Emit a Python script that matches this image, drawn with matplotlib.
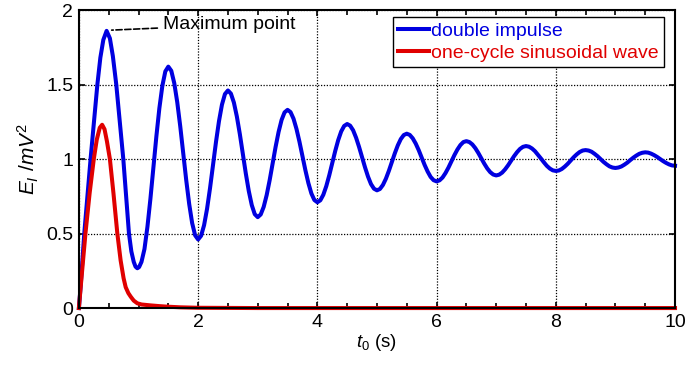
import numpy as np
import matplotlib
matplotlib.use("Agg")
import matplotlib.pyplot as plt
from matplotlib.ticker import MultipleLocator

plt.rcParams['font.family'] = ['Liberation Sans', 'DejaVu Sans']
plt.rcParams['mathtext.fontset'] = 'custom'
plt.rcParams['mathtext.rm'] = 'Liberation Sans'
plt.rcParams['mathtext.it'] = 'Liberation Sans:italic'

# ---- data ----
t_blue_first = [0, 0.03, 0.09, 0.14, 0.196, 0.25, 0.31, 0.36, 0.41, 0.465,
                0.52, 0.57, 0.627, 0.686, 0.745, 0.79, 0.84, 0.88, 0.92, 0.95, 0.98, 1.01]
e_blue_first = [0, 0.15, 0.5, 0.74, 1.0, 1.24, 1.5, 1.68, 1.80, 1.86,
                1.81, 1.69, 1.5, 1.25, 1.0, 0.76, 0.5, 0.38, 0.31, 0.278, 0.267, 0.275]
t_blue_rest = list(np.round(np.arange(1.05, 10.0001, 0.05), 2))
e_blue_rest = [
    0.31, 0.396, 0.546, 0.734, 0.944, 1.153, 1.341, 1.491, 1.588, 1.62,
    1.592, 1.509, 1.381, 1.22, 1.04, 0.86, 0.699, 0.57, 0.488, 0.46,
    0.485, 0.556, 0.666, 0.805, 0.96, 1.115, 1.254, 1.365, 1.436, 1.46,
    1.439, 1.379, 1.285, 1.167, 1.035, 0.903, 0.785, 0.691, 0.63, 0.61,
    0.628, 0.679, 0.758, 0.858, 0.97, 1.082, 1.182, 1.262, 1.313, 1.33,
    1.315, 1.271, 1.202, 1.116, 1.02, 0.924, 0.838, 0.769, 0.725, 0.71,
    0.723, 0.76, 0.818, 0.891, 0.973, 1.054, 1.127, 1.185, 1.222, 1.235,
    1.224, 1.193, 1.143, 1.081, 1.013, 0.944, 0.882, 0.832, 0.801, 0.79,
    0.799, 0.826, 0.868, 0.921, 0.98, 1.039, 1.092, 1.134, 1.161, 1.17,
    1.162, 1.139, 1.104, 1.06, 1.01, 0.96, 0.916, 0.88, 0.858, 0.85,
    0.857, 0.876, 0.906, 0.943, 0.985, 1.027, 1.064, 1.094, 1.114, 1.12,
    1.114, 1.098, 1.073, 1.041, 1.005, 0.969, 0.937, 0.912, 0.896, 0.89,
    0.895, 0.909, 0.931, 0.958, 0.989, 1.019, 1.046, 1.068, 1.082, 1.087,
    1.083, 1.071, 1.053, 1.029, 1.004, 0.978, 0.954, 0.936, 0.924, 0.92,
    0.923, 0.933, 0.949, 0.968, 0.99, 1.012, 1.031, 1.047, 1.057, 1.06,
    1.057, 1.049, 1.035, 1.019, 1.0, 0.981, 0.965, 0.951, 0.943, 0.94,
    0.943, 0.95, 0.962, 0.976, 0.993, 1.009, 1.023, 1.035, 1.042, 1.045,
    1.043, 1.036, 1.026, 1.014, 1.0, 0.986, 0.974, 0.964, 0.957, 0.955,
]
t_blue = t_blue_first + t_blue_rest
e_blue = e_blue_first + e_blue_rest

t_red = [0, 0.03, 0.07, 0.11, 0.18, 0.25, 0.30, 0.35, 0.39, 0.43, 0.47, 0.52,
         0.58, 0.645, 0.70, 0.75, 0.785, 0.83, 0.87, 0.92, 0.98, 1.05, 1.2,
         1.35, 1.5, 1.7, 2.0, 3.0, 10.0]
e_red = [0, 0.14, 0.32, 0.5, 0.77, 1.0, 1.13, 1.21, 1.23, 1.20, 1.12, 1.0,
         0.77, 0.5, 0.32, 0.2, 0.14, 0.1, 0.076, 0.05, 0.032, 0.024, 0.018,
         0.013, 0.009, 0.005, 0.002, 0, 0]

labels = ['double impulse', 'one-cycle sinusoidal wave']
colors = ['#0000e0', '#e00000']
x_ticks = [0, 2, 4, 6, 8, 10]
y_ticks = [0, 0.5, 1, 1.5, 2]

# ---- figure ----
fig = plt.figure(figsize=(6.86, 3.65), dpi=100)
ax = fig.add_axes([0.115, 0.156, 0.869, 0.8166])

ax.plot(t_blue, e_blue, color=colors[0], lw=2.9, label=labels[0], clip_on=False,
        zorder=2, solid_joinstyle='round')
ax.plot(t_red, e_red, color=colors[1], lw=2.9, label=labels[1], clip_on=False,
        zorder=2, solid_joinstyle='round')

ax.set_xlim(0, 10)
ax.set_ylim(0, 2)
ax.set_xticks(x_ticks)
ax.set_xticklabels([str(v) for v in x_ticks])
ax.set_yticks(y_ticks)
ax.set_yticklabels(['0', '0.5', '1', '1.5', '2'])
ax.xaxis.set_minor_locator(MultipleLocator(0.5))
ax.tick_params(which='both', direction='in', top=True, right=True, labelsize=14,
               width=1.2, colors='black')
ax.tick_params(which='major', length=4)
ax.tick_params(which='minor', length=3.5)
ax.tick_params(axis='x', pad=4)
ax.tick_params(axis='y', pad=4)
ax.grid(True, which='major', color='black', linestyle=(0, (1, 1.3)), linewidth=0.9)
for s in ax.spines.values():
    s.set_linewidth(1.5)

ax.set_xlabel(r'$t_0$ (s)', fontsize=13.5, labelpad=1)
ax.set_ylabel(r'$E_I\ /mV^2$', fontsize=15, labelpad=4)

ax.annotate('Maximum point', xy=(0.55, 1.865), xytext=(1.41, 1.90),
            fontsize=14, va='center', ha='left',
            arrowprops=dict(arrowstyle='-', linestyle='--', color='black',
                            lw=1.2, shrinkA=2, shrinkB=0))

leg = ax.legend(loc='upper right', bbox_to_anchor=(0.9815, 0.978), fontsize=14,
                frameon=True, fancybox=False, edgecolor='black', framealpha=1,
                handlelength=1.55, handletextpad=0.1, borderpad=0.3,
                labelspacing=0.2, borderaxespad=0)
leg.get_frame().set_linewidth(1.0)
for txt, c in zip(leg.get_texts(), colors):
    txt.set_color(c)

fig.savefig('out.png', dpi=100)
